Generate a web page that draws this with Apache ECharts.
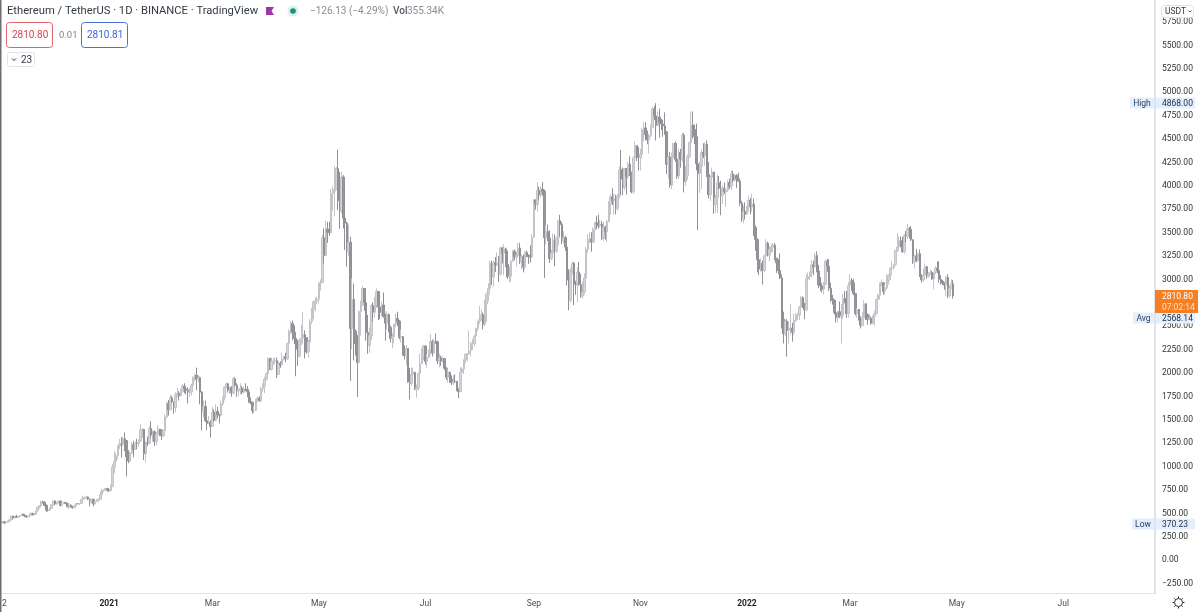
<!DOCTYPE html>
<html>
<head>
<meta charset="utf-8">
<title>Ethereum / TetherUS</title>
<style>html,body{margin:0;padding:0;background:#fff}#chart{width:1200px;height:612px}</style>
<script src="https://cdn.jsdelivr.net/npm/echarts@6/dist/echarts.min.js"></script>
</head>
<body>
<div id="chart"></div>
<script>
// Daily ETH/USDT candles. Each row of the arrays below is one calendar month,
// the first value being the 31 Oct 2020 session.
const firstOpen = 382;
const closes = [
386,
396,384,388,402,416,455,436,454,444,450,462,476,461,448,447,460,480,478,472,510,550,567,608,604,568,518,517,538,575,616,
587,598,616,569,596,601,591,556,573,559,545,568,590,586,589,636,642,654,659,638,608,635,586,612,626,635,683,730,731,751,737,
730,774,978,1041,1100,1207,1225,1224,1281,1262,1090,1043,1130,1218,1171,1233,1230,1257,1377,1382,1121,1236,1233,1392,1322,1357,1253,1330,1382,1378,1314,
1369,1515,1660,1593,1719,1678,1614,1750,1769,1743,1783,1844,1814,1800,1780,1781,1848,1937,1960,1919,1935,1780,1570,1626,1475,1446,1459,1416,
1565,1478,1574,1540,1533,1654,1724,1834,1868,1799,1826,1772,1924,1854,1791,1806,1823,1780,1810,1807,1783,1680,1669,1582,1587,1700,1716,1690,1817,1846,1919,
1977,2142,2024,2107,2112,2117,1971,2088,2072,2135,2158,2137,2299,2432,2514,2421,2354,2237,2165,2331,2357,2397,2364,2210,2316,2534,2662,2747,2756,2773,
2945,2950,3431,3240,3524,3490,3484,3902,3928,3950,4169,3825,3715,4079,3640,3587,3282,3381,2460,2772,2430,2296,2096,2642,2708,2888,2736,2418,2280,2385,2706,
2634,2706,2856,2689,2630,2711,2590,2517,2610,2472,2353,2372,2508,2568,2540,2364,2373,2225,2170,2246,1889,1876,1968,1990,1811,1828,1980,2085,2160,2274,
2110,2150,2226,2320,2199,2323,2318,2115,2148,2112,2139,2036,1939,1993,1918,1880,1896,1894,1820,1785,1993,2027,2123,2187,2190,2226,2300,2300,2380,2461,2536,
2555,2608,2506,2725,2827,2890,3158,3012,3163,3140,3163,3045,3321,3265,3310,3147,3012,3019,3179,3286,3225,3240,3320,3172,3228,3114,3273,3245,3227,3225,3433,
3834,3787,3937,3887,3950,3926,3430,3497,3426,3208,3266,3408,3285,3430,3612,3570,3398,3431,3330,2978,2764,3078,3155,2930,2926,3064,2929,2807,2850,3000,
3307,3390,3418,3383,3517,3589,3587,3558,3577,3422,3544,3492,3603,3789,3868,3829,3848,3745,3877,4157,4058,3970,4169,4082,4217,4130,3920,4284,4415,4322,4288,
4322,4586,4604,4529,4475,4521,4610,4807,4732,4632,4719,4664,4645,4625,4562,4214,4293,3993,4315,4438,4269,4088,4342,4271,4526,4031,4097,4297,4446,4635,
4587,4510,4222,4117,4197,4343,4310,4430,4105,3890,4075,4133,3785,3860,4018,3960,3880,3960,3925,3940,4020,3980,4110,4045,4095,4060,4035,3800,3630,3712,3680,
3765,3830,3760,3790,3540,3410,3195,3095,3157,3080,3238,3372,3245,3307,3330,3350,3212,3162,3080,3000,2560,2405,2537,2440,2460,2465,2420,2545,2600,2603,2688,
2790,2690,2660,2990,3015,3058,3140,3120,3240,3075,2925,2915,2880,2930,3180,3125,2890,2780,2760,2630,2575,2640,2585,2600,2780,2775,2620,2920,
2975,2950,2835,2620,2665,2550,2495,2575,2725,2610,2555,2570,2515,2590,2620,2770,2815,2945,2950,2860,2895,2970,3030,3105,3110,3145,3295,3330,3400,3385,3280,
3455,3445,3525,3520,3410,3170,3235,3190,3260,3020,2980,3030,3120,3020,3040,3060,2990,3060,3105,3080,2985,2965,2945,2925,3005,2810,2890,2937,2810.8
];
const highs = [
396,
400,402,390,406,420,458,456,457,470,455,465,480,478,466,456,463,495,492,485,514,560,572,620,620,612,582,526,548,580,620,
623,610,622,620,598,610,605,595,578,580,562,572,596,595,592,640,676,664,668,665,642,640,638,618,636,646,720,748,742,756,755,
750,790,1010,1155,1130,1210,1280,1300,1300,1350,1265,1160,1140,1245,1260,1250,1280,1275,1440,1395,1385,1255,1305,1415,1470,1375,1370,1350,1425,1390,1380,
1375,1540,1680,1695,1750,1740,1680,1780,1825,1790,1815,1870,1875,1825,1830,1825,1870,1950,1975,2042,1960,1945,1790,1690,1690,1560,1525,1480,
1620,1595,1650,1625,1550,1690,1735,1840,1880,1880,1840,1845,1945,1935,1875,1815,1875,1845,1835,1875,1845,1810,1725,1680,1630,1710,1735,1735,1838,1875,1945,
1990,2150,2145,2150,2145,2150,2150,2105,2110,2200,2170,2200,2310,2450,2545,2545,2495,2370,2340,2350,2500,2640,2440,2365,2340,2560,2680,2760,2795,2799,
2950,2985,3458,3530,3610,3600,3600,3950,3982,4197,4185,4372,4135,4135,4100,3885,3600,3570,3440,2995,2940,2450,2390,2655,2755,2915,2890,2780,2605,2470,2720,
2740,2800,2890,2860,2815,2745,2845,2620,2645,2620,2490,2410,2510,2620,2640,2550,2450,2380,2280,2285,2250,2040,2045,2040,2000,1860,1990,2190,2250,2285,
2280,2190,2240,2400,2340,2350,2410,2330,2190,2170,2160,2140,2045,2030,2000,1960,1960,1970,1900,1820,2045,2045,2130,2190,2195,2440,2320,2345,2390,2470,2540,
2700,2665,2630,2770,2845,2945,3185,3185,3185,3225,3275,3235,3335,3330,3360,3325,3290,3125,3190,3300,3305,3275,3375,3375,3250,3250,3285,3295,3245,3350,3470,
3840,3840,4025,3975,3980,4025,3945,3565,3570,3510,3300,3475,3465,3440,3620,3675,3600,3500,3450,3360,3095,3110,3175,3170,2970,3115,3170,3045,2965,3050,
3330,3470,3490,3490,3540,3600,3665,3675,3620,3610,3600,3560,3620,3820,3895,3960,3900,3890,3895,4190,4370,4180,4175,4175,4240,4300,4135,4300,4460,4395,4400,
4380,4600,4665,4665,4575,4540,4640,4825,4840,4868,4780,4810,4700,4690,4770,4570,4300,4345,4340,4445,4460,4310,4380,4380,4550,4550,4195,4320,4460,4780,
4780,4640,4650,4240,4240,4375,4440,4450,4470,4240,4095,4180,4130,3890,4100,4090,4040,3990,4020,3965,4050,4060,4145,4145,4110,4110,4125,4050,3825,3775,3810,
3770,3880,3855,3900,3850,3560,3425,3230,3210,3190,3250,3415,3390,3340,3365,3370,3375,3215,3200,3265,3040,2640,2550,2560,2540,2725,2520,2620,2625,2625,2700,
2810,2805,2735,3040,3060,3070,3190,3185,3265,3285,3140,3010,2950,2960,3195,3205,3200,2950,2820,2770,2760,2650,2750,2720,2830,2860,2860,2955,
3040,3000,2990,2840,2680,2665,2590,2640,2760,2725,2620,2610,2590,2600,2650,2780,2835,2950,2985,2950,2930,3040,3040,3115,3180,3150,3295,3480,3440,3445,3440,
3470,3500,3580,3545,3555,3410,3250,3310,3270,3305,3040,3100,3155,3130,3060,3090,3075,3065,3125,3175,3180,3030,2980,2955,3020,3040,2920,2985,2980
];
const lows = [
381,
381,370.23,375,384,398,412,425,432,434,440,446,458,456,444,438,442,456,460,465,470,508,532,562,590,560,500,505,510,534,574,
570,577,593,560,562,590,582,550,530,545,535,542,562,582,575,586,620,634,640,625,560,590,560,580,606,610,630,680,710,725,716,
715,716,765,915,985,1060,1175,1080,1200,1150,880,1020,1035,1120,1085,1160,1170,1195,1250,1290,1055,1030,1205,1230,1290,1250,1205,1215,1265,1310,1270,
1300,1365,1500,1530,1585,1665,1550,1565,1725,1690,1730,1780,1770,1755,1660,1725,1745,1820,1895,1800,1885,1650,1370,1510,1460,1375,1440,1295,
1410,1465,1470,1500,1445,1520,1635,1690,1820,1775,1760,1730,1755,1840,1730,1735,1760,1755,1770,1790,1725,1665,1650,1550,1555,1580,1670,1680,1670,1785,1770,
1905,1960,2015,2010,2065,2085,1930,1965,2040,2065,2120,2100,2125,2290,2400,2335,2295,1950,2060,2150,2285,2300,2140,2190,2150,2305,2510,2560,2645,2720,
2725,2865,2950,3155,3240,3375,3450,3480,3720,3660,3940,3725,3525,3690,3530,3300,3120,3230,1900,2240,2120,2170,1728,2100,2385,2700,2650,2330,2190,2200,2335,
2535,2580,2680,2550,2560,2590,2575,2330,2450,2420,2310,2250,2300,2475,2485,2345,2310,2170,2130,2065,1880,1700,1845,1880,1800,1720,1800,1965,2085,2120,
2075,2045,2150,2175,2160,2200,2295,2080,2045,2060,2095,2015,1910,1880,1880,1855,1860,1880,1790,1718,1780,1955,1975,2090,2110,2180,2165,2230,2270,2330,2430,
2510,2545,2450,2480,2530,2750,2870,2925,2905,3065,3125,2960,3020,3155,3030,3115,2990,2950,2960,3170,3190,3125,3220,3150,3090,3060,3090,3225,3150,3165,3210,
3430,3730,3710,3830,3860,3880,3000,3360,3395,3160,3190,3240,3125,3270,3350,3445,3360,3370,3290,2920,2655,2740,3040,2710,2820,2740,2920,2790,2780,2825,
2970,3270,3375,3280,3375,3380,3520,3530,3540,3405,3395,3410,3385,3595,3675,3780,3680,3680,3720,3850,3890,3885,3940,3890,4060,4090,3905,3900,4270,4250,4150,
4150,4280,4460,4470,4430,4330,4505,4605,4690,4470,4620,4500,4580,4510,4530,4110,4060,3965,3950,4285,4240,4060,4055,4180,4240,3915,3985,4050,4280,4310,
4490,4430,4150,3510,3910,3950,4280,4200,4080,3850,3825,4020,3685,3695,3695,3950,3670,3790,3900,3760,3920,3950,3940,4020,4030,3960,4030,3770,3600,3585,3625,
3680,3710,3680,3710,3450,3290,3060,3030,3060,2930,3065,3225,3230,3180,3270,3280,3190,3055,3040,2990,2460,2300,2380,2160,2300,2400,2320,2390,2530,2550,2550,
2675,2680,2560,2650,2955,2975,3005,3030,3110,3060,2890,2860,2845,2825,2925,3065,2860,2745,2715,2610,2525,2520,2570,2300,2560,2730,2575,2575,
2860,2860,2815,2600,2575,2545,2460,2480,2575,2550,2500,2550,2500,2505,2490,2610,2745,2770,2915,2820,2830,2880,2930,2980,3070,3090,3135,3280,3320,3330,3270,
3260,3380,3420,3420,3395,3150,3100,3170,3175,3010,2950,2960,3005,2990,3005,3030,2980,2880,3040,3050,2950,2930,2925,2875,2805,2785,2790,2885,2780
];

// Price scale ticks and the dates that carry a time-axis label.
const priceTicks = [-250,0,250,500,750,1000,1250,1500,1750,2000,2250,2500,2750,3000,3250,3500,3750,4000,4250,4500,4750,5000,5250,5500,5750];
const timeTickDates = ['2020-11-02','2021-01-01','2021-03-01','2021-05-01','2021-07-01','2021-09-01','2021-11-01','2022-01-01','2022-03-01','2022-05-01','2022-07-01'];
const timeTickTexts = ['2','{y|2021}','Mar','May','Jul','Sep','Nov','{y|2022}','Mar','May','Jul'];

// Reference price badges on the right-hand scale.
const badgeNames = ['High','Avg','Low'];
const badgeValues = [4868,2568.14,370.23];
const lastPrice = 2810.80;
const countdown = '07:02:14';

// Daily category list, running on past the last candle to leave the empty right margin.
const sessionCount = 661;
const days = [];
for (let i = 0; i < sessionCount; i++) {
  days.push(new Date(Date.UTC(2020, 9, 31 + i)).toISOString().slice(0, 10));
}

// Candles as [open, close, low, high]; each session opens at the prior close.
const candles = closes.map((c, i) => {
  const o = i === 0 ? firstOpen : closes[i - 1];
  return [o, c, Math.min(lows[i], o, c), Math.max(highs[i], o, c)];
});

const FONT = 'Roboto, "Noto Sans", sans-serif';
const tickMap = {};
timeTickDates.forEach((d, i) => { tickMap[d] = timeTickTexts[i]; });

function headerText(x, y, text, fill, size, weight) {
  return { type: 'text', x, y, z: 50, style: { text, fill, fontSize: size || 11, fontWeight: weight || 400, fontFamily: FONT, textVerticalAlign: 'middle' } };
}
function box(x, y, w, h, stroke, r) {
  return { type: 'rect', z: 49, shape: { x, y, width: w, height: h, r: r || 3 }, style: { fill: '#fff', stroke, lineWidth: 1 } };
}
const gearSpokes = [];
for (let a = 0; a < 8; a++) {
  const t = a * Math.PI / 4;
  gearSpokes.push({ type: 'line', z: 50, shape: { x1: 1178.5 + 4 * Math.cos(t), y1: 602.5 + 4 * Math.sin(t), x2: 1178.5 + 6 * Math.cos(t), y2: 602.5 + 6 * Math.sin(t) }, style: { stroke: '#333', lineWidth: 1 } });
}

const option = {
  animation: false,
  backgroundColor: '#ffffff',
  grid: { left: 0, right: 45, top: 0, bottom: 19, containLabel: false, outerBoundsMode: 'none' },
  xAxis: {
    type: 'category',
    data: days,
    boundaryGap: true,
    axisLine: { show: true, onZero: false, lineStyle: { color: '#e0e3eb', width: 1 } },
    axisTick: { show: false },
    splitLine: { show: false },
    axisLabel: {
      interval: (i, v) => tickMap[v] !== undefined,
      formatter: v => tickMap[v] || '',
      color: '#4a4a52',
      fontSize: 8.5,
      fontFamily: FONT,
      margin: 6,
      hideOverlap: false,
      rich: { y: { color: '#222', fontSize: 8.5, fontWeight: 700, fontFamily: FONT } }
    }
  },
  yAxis: {
    type: 'value',
    position: 'right',
    min: -366.6,
    max: 5971,
    axisLine: { show: true, lineStyle: { color: '#e0e3eb', width: 2 } },
    axisTick: { show: false },
    splitLine: { show: false },
    axisLabel: {
      customValues: priceTicks,
      formatter: v => '{p|' + (v < 0 ? '\u2212' + Math.abs(v).toFixed(2) : v.toFixed(2)) + '}',
      margin: 7,
      showMinLabel: true,
      showMaxLabel: true,
      rich: { p: { color: '#333', fontSize: 8.5, fontFamily: FONT, padding: [3, 0, 0, 0] } }
    }
  },
  series: [
    {
      type: 'candlestick',
      data: candles,
      barWidth: 2,
      silent: true,
      itemStyle: { color: '#d6d6d9', color0: '#96969c', borderColor: '#c4c4c8', borderColor0: '#909096', borderWidth: 1 }
    },
    {
      // Badges sit on the price scale, placed through the axis so they track their values.
      type: 'custom',
      silent: true,
      z: 20,
      data: badgeValues.map((v, i) => [0, v, i]),
      encode: { x: 0, y: 1 },
      renderItem: (params, api) => {
        const y = Math.round(api.coord([0, api.value(1)])[1]);
        const i = api.value(2);
        const wide = [24, 21, 22][i];
        return {
          type: 'group',
          children: [
            { type: 'rect', shape: { x: 1154 - wide, y: y - 5.5, width: wide, height: 11 }, style: { fill: '#e3effd' } },
            { type: 'rect', shape: { x: 1156, y: y - 5.5, width: 39, height: 11 }, style: { fill: '#e3effd' } },
            { type: 'text', x: 1154 - wide / 2, y: y + 0.5, style: { text: badgeNames[i], fill: '#1f3a56', fontSize: 8.5, fontFamily: FONT, textAlign: 'center', textVerticalAlign: 'middle' } },
            { type: 'text', x: 1162, y: y + 0.5, style: { text: api.value(1).toFixed(2), fill: '#1f2a44', fontSize: 8.5, fontFamily: FONT, textVerticalAlign: 'middle' } }
          ]
        };
      }
    },
    {
      // Last-price flag with the candle countdown beneath it.
      type: 'custom',
      silent: true,
      z: 21,
      data: [[0, lastPrice]],
      encode: { x: 0, y: 1 },
      renderItem: (params, api) => {
        const y = Math.round(api.coord([0, api.value(1)])[1]);
        return {
          type: 'group',
          children: [
            { type: 'rect', shape: { x: 1155, y: y - 6, width: 43, height: 23 }, style: { fill: '#f57f22' } },
            { type: 'text', x: 1162, y: y + 0.5, style: { text: api.value(1).toFixed(2), fill: '#fff', fontSize: 8.5, fontFamily: FONT, textVerticalAlign: 'middle' } },
            { type: 'text', x: 1162, y: y + 11.5, style: { text: countdown, fill: '#fde0c8', fontSize: 8.5, fontFamily: FONT, textVerticalAlign: 'middle' } }
          ]
        };
      }
    }
  ],
  graphic: { elements: [
    { type: 'rect', z: 48, shape: { x: 0, y: 0, width: 1.5, height: 612 }, style: { fill: '#6e6e6e' } },
    headerText(7, 11, 'Ethereum / TetherUS \u00b7 1D \u00b7 BINANCE \u00b7 TradingView', '#333a44', 11.2),
    { type: 'polygon', z: 50, shape: { points: [[266, 7], [274, 7], [271.5, 11], [274, 15], [266, 15]] }, style: { fill: '#9b36a8' } },
    { type: 'circle', z: 49, shape: { cx: 293, cy: 11, r: 5.5 }, style: { fill: '#d9efec' } },
    { type: 'circle', z: 50, shape: { cx: 293, cy: 11, r: 2.8 }, style: { fill: '#1e8f78' } },
    headerText(310, 11.5, '\u2212126.13 (\u22124.29%)', '#8a8d94', 10),
    headerText(393, 11.5, 'Vol', '#555a63', 10, 500),
    headerText(407, 11.5, '355.34K', '#8a8d94', 10),
    box(6.5, 22.5, 46, 25, '#e2636e'),
    headerText(12, 35.5, '2810.80', '#d9434f', 10),
    headerText(59, 35.5, '0.01', '#80838a', 9.5),
    box(81.5, 22.5, 46, 25, '#4a72d9'),
    headerText(87, 35.5, '2810.81', '#3f66cf', 10),
    box(7.5, 52.5, 27, 14, '#e0e3eb', 2),
    { type: 'polyline', z: 50, shape: { points: [[12, 58.5], [14, 60.5], [16, 58.5]] }, style: { stroke: '#333', lineWidth: 1, fill: null } },
    headerText(21, 60, '23', '#333a44', 10),
    { type: 'rect', z: 49, shape: { x: 1161.5, y: 5.5, width: 32, height: 12, r: 3 }, style: { fill: '#fff', stroke: '#e0e3eb', lineWidth: 1 } },
    headerText(1165, 11.5, 'USDT', '#333a44', 8.5),
    { type: 'polyline', z: 50, shape: { points: [[1188.5, 10.5], [1190, 12], [1191.5, 10.5]] }, style: { stroke: '#333', lineWidth: 0.8, fill: null } },
    { type: 'circle', z: 50, shape: { cx: 1178.5, cy: 602.5, r: 4 }, style: { fill: '#fff', stroke: '#333', lineWidth: 1 } },
    ...gearSpokes
  ] }
};

const chart = echarts.init(document.getElementById('chart'), null, { renderer: 'canvas', width: 1200, height: 612 });
chart.setOption(option);
</script>
</body>
</html>
